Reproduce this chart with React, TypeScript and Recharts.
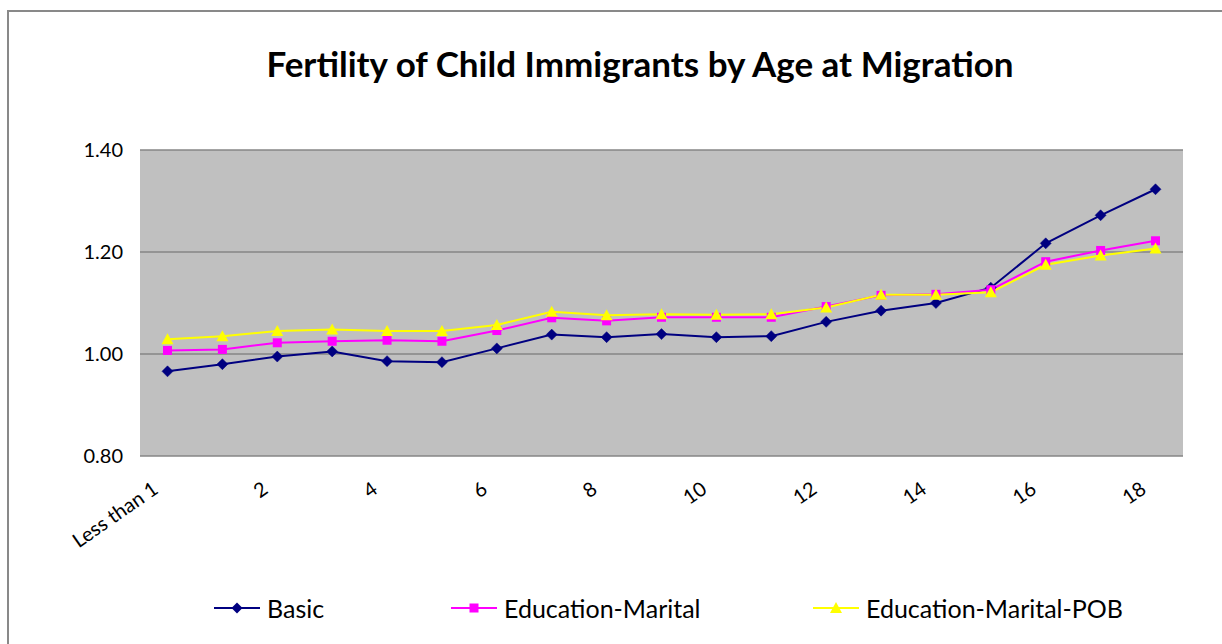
import React from 'react';
import { LineChart, Line, XAxis, YAxis, CartesianGrid } from 'recharts';

const ages = ['Less than 1', '1', '2', '3', '4', '5', '6', '7', '8', '9', '10', '11', '12', '13', '14', '15', '16', '17', '18'];
const basic = [0.966, 0.980, 0.995, 1.005, 0.986, 0.984, 1.011, 1.038, 1.033, 1.039, 1.033, 1.035, 1.063, 1.085, 1.100, 1.130, 1.217, 1.272, 1.323];
const eduMarital = [1.007, 1.009, 1.022, 1.025, 1.027, 1.025, 1.046, 1.071, 1.065, 1.072, 1.072, 1.072, 1.093, 1.115, 1.117, 1.126, 1.181, 1.203, 1.222];
const eduMaritalPob = [1.029, 1.035, 1.045, 1.048, 1.045, 1.045, 1.057, 1.083, 1.076, 1.078, 1.077, 1.078, 1.091, 1.116, 1.116, 1.121, 1.175, 1.193, 1.207];
const yTicks = [0.8, 1.0, 1.2, 1.4];

const data = ages.map((a, i) => ({
  age: a,
  basic: basic[i],
  eduMarital: eduMarital[i],
  eduMaritalPob: eduMaritalPob[i],
}));

const FONT = 'Lato, "Noto Sans", sans-serif';
const NAVY = '#000080';
const PINK = '#FF00FF';
const YELLOW = '#FFFF00';

const Diamond = (props: any) => {
  const { cx, cy } = props;
  if (cx == null || cy == null) return null;
  const r = 5.5;
  return <path d={`M${cx},${cy - r}L${cx + r},${cy}L${cx},${cy + r}L${cx - r},${cy}Z`} fill={NAVY} stroke={NAVY} strokeWidth={0.5} />;
};
const Square = (props: any) => {
  const { cx, cy } = props;
  if (cx == null || cy == null) return null;
  const r = 4.5;
  return <rect x={cx - r} y={cy - r} width={2 * r} height={2 * r} fill={PINK} />;
};
const Triangle = (props: any) => {
  const { cx, cy } = props;
  if (cx == null || cy == null) return null;
  return <path d={`M${cx},${cy - 6}L${cx + 6},${cy + 5}L${cx - 6},${cy + 5}Z`} fill={YELLOW} />;
};

const XTick = (props: any) => {
  const { x, payload } = props;
  const px = x - 8;
  const py = 492;
  return (
    <text x={px} y={py} textAnchor="end" transform={`rotate(-35, ${px}, ${py})`} fontFamily={FONT} fontSize={20} fill="#000">
      {payload.value}
    </text>
  );
};

const YTick = (props: any) => {
  const { y, payload } = props;
  return (
    <text x={123} y={y} dy={7} textAnchor="end" fontFamily={FONT} fontSize={20} fill="#000">
      {Number(payload.value).toFixed(2)}
    </text>
  );
};

const legendItems = [
  { name: 'Basic', color: NAVY, shape: 'diamond', left: 214 },
  { name: 'Education-Marital', color: PINK, shape: 'square', left: 451 },
  { name: 'Education-Marital-POB', color: YELLOW, shape: 'triangle', left: 813 },
];

const LegendIcon = ({ color, shape }: { color: string; shape: string }) => (
  <svg width={46} height={14} style={{ display: 'block' }}>
    <line x1={0} y1={7} x2={46} y2={7} stroke={color} strokeWidth={2} />
    {shape === 'diamond' && <path d="M23,1.5L28.5,7L23,12.5L17.5,7Z" fill={color} />}
    {shape === 'square' && <rect x={18.5} y={2.5} width={9} height={9} fill={color} />}
    {shape === 'triangle' && <path d="M23,1L29,12L17,12Z" fill={color} />}
  </svg>
);

export default function App() {
  return (
    <div style={{ position: 'absolute', left: 0, top: 0, width: 1222, height: 644, background: '#fff', overflow: 'hidden' }}>
      <div style={{ position: 'absolute', left: 7, top: 10, width: 1300, height: 700, borderLeft: '2px solid #898989', borderTop: '2px solid #898989' }} />
      <div style={{ position: 'absolute', left: 140, width: 1000, top: 42, textAlign: 'center', fontFamily: FONT, fontWeight: 700, fontSize: 35, color: '#000' }}>
        Fertility of Child Immigrants by Age at Migration
      </div>
      <div style={{ position: 'absolute', left: 0, top: 0 }}>
        <LineChart width={1222} height={644} data={data} margin={{ top: 150, right: 39, bottom: 187, left: 80 }}>
          <CartesianGrid vertical={false} stroke="#868686" strokeWidth={1.5} fill="#C0C0C0" fillOpacity={1} />
          <XAxis dataKey="age" interval={1} axisLine={false} tickLine={false} tick={<XTick />} padding={{ left: 27.5, right: 27.5 }} height={1} />
          <YAxis domain={[0.8, 1.4]} ticks={yTicks} axisLine={false} tickLine={false} tick={<YTick />} width={60} />
          <Line dataKey="basic" stroke={NAVY} strokeWidth={2} dot={<Diamond />} isAnimationActive={false} />
          <Line dataKey="eduMarital" stroke={PINK} strokeWidth={2} dot={<Square />} isAnimationActive={false} />
          <Line dataKey="eduMaritalPob" stroke={YELLOW} strokeWidth={2} dot={<Triangle />} isAnimationActive={false} />
        </LineChart>
      </div>
      {legendItems.map((it) => (
        <div key={it.name} style={{ position: 'absolute', left: it.left, top: 592, height: 32, display: 'flex', alignItems: 'center', fontFamily: FONT, fontSize: 25, color: '#000', whiteSpace: 'nowrap' }}>
          <LegendIcon color={it.color} shape={it.shape} />
          <span style={{ marginLeft: 7 }}>{it.name}</span>
        </div>
      ))}
    </div>
  );
}
